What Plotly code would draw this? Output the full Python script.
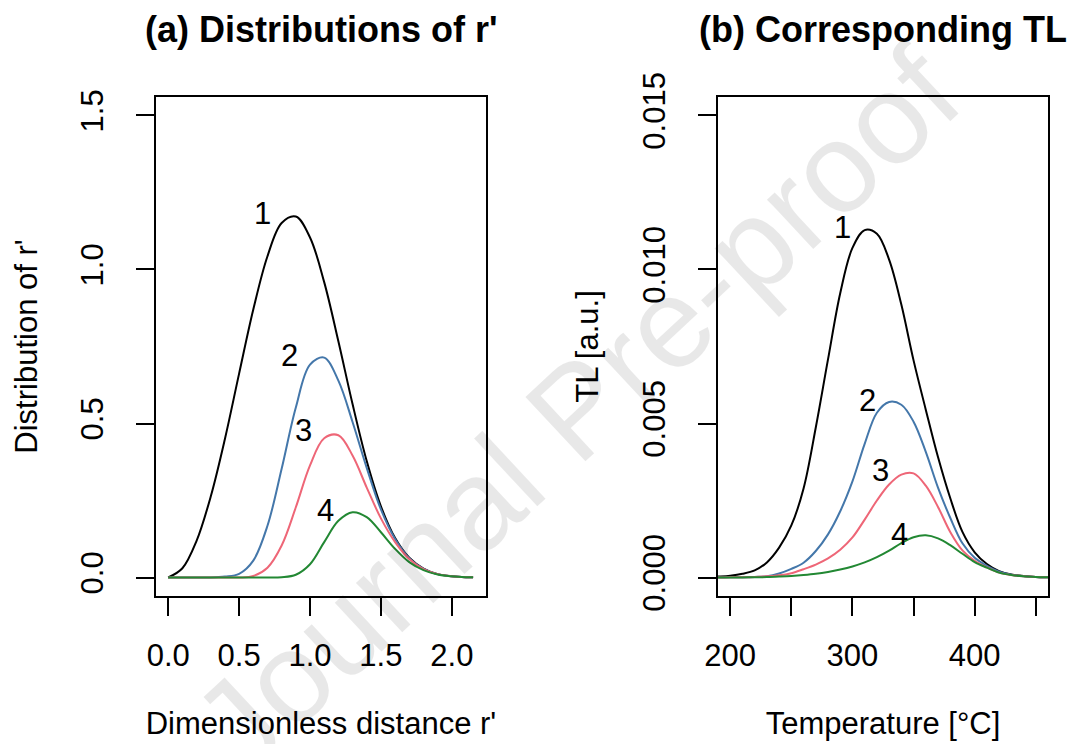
import plotly.graph_objects as go

# ---------------- data: panel (a) ----------------
r_prime = [0.0, 0.1, 0.2, 0.3, 0.4, 0.5, 0.6, 0.7, 0.8, 0.9, 1.0, 1.1,
           1.2, 1.3, 1.4, 1.5, 1.6, 1.7, 1.8, 1.9, 2.0, 2.1, 2.15]
dist_1 = [0.0, 0.030, 0.119, 0.263, 0.450, 0.662, 0.870, 1.043, 1.151, 1.172, 1.104, 0.959,
          0.767, 0.563, 0.378, 0.231, 0.128, 0.064, 0.029, 0.011, 0.004, 0.001, 0.0005]
dist_2 = [0.0, 0.0, 0.0, 0.0, 0.003, 0.012, 0.055, 0.168, 0.353, 0.552, 0.691, 0.714,
          0.639, 0.505, 0.356, 0.221, 0.125, 0.063, 0.028, 0.011, 0.004, 0.001, 0.0005]
dist_3 = [0.0, 0.0, 0.0, 0.0, 0.0, 0.0, 0.005, 0.032, 0.104, 0.228, 0.364, 0.452,
          0.462, 0.396, 0.292, 0.192, 0.115, 0.060, 0.027, 0.011, 0.004, 0.001, 0.0005]
dist_4 = [0.0, 0.0, 0.0, 0.0, 0.0, 0.0, 0.0, 0.0, 0.001, 0.009, 0.043, 0.115,
          0.184, 0.212, 0.196, 0.147, 0.093, 0.050, 0.024, 0.010, 0.004, 0.001, 0.0005]

# ---------------- data: panel (b) ----------------
temperature = [180, 190, 200, 210, 220, 230, 240, 250, 260, 270, 280, 290, 300, 310, 320,
               330, 340, 350, 360, 370, 380, 390, 400, 410, 420, 430, 440, 450, 460, 470]
tl_1 = [0.00001, 0.00003, 0.00006, 0.00012, 0.00023, 0.00049, 0.00097, 0.00169, 0.00289,
        0.00487, 0.00708, 0.00923, 0.01070, 0.01128, 0.01116, 0.01032, 0.00886, 0.00705,
        0.00545, 0.00391, 0.00258, 0.00148, 0.00082, 0.00044, 0.00021, 0.00010, 0.00005,
        0.00002, 0.00001, 0.000005]
tl_2 = [0.0, 0.000002, 0.000005, 0.00001, 0.00002, 0.00004, 0.00013, 0.00028, 0.00048,
        0.00086, 0.00140, 0.00215, 0.00312, 0.00434, 0.00535, 0.00570, 0.00561, 0.00506,
        0.00408, 0.00292, 0.00194, 0.00111, 0.00064, 0.00038, 0.00019, 0.00009, 0.000045,
        0.00002, 0.00001, 0.000005]
tl_3 = [0.0, 0.000002, 0.000005, 0.00001, 0.00002, 0.00004, 0.00007, 0.00014, 0.00027,
        0.00042, 0.00062, 0.00090, 0.00130, 0.00188, 0.00250, 0.00302, 0.00334, 0.00338,
        0.00298, 0.00229, 0.00148, 0.00088, 0.00054, 0.00033, 0.00016, 0.00008, 0.00004,
        0.00002, 0.00001, 0.000005]
tl_4 = [0.0, 0.000001, 0.000002, 0.000004, 0.000008, 0.000015, 0.00003, 0.00005, 0.00008,
        0.00012, 0.00018, 0.00026, 0.00036, 0.00049, 0.00066, 0.00087, 0.00112, 0.00131,
        0.00137, 0.00127, 0.00105, 0.00077, 0.00050, 0.00032, 0.00016, 0.00008, 0.00004,
        0.00002, 0.00001, 0.000005]

curve_names = ["1", "2", "3", "4"]
curve_colors = ["#000000", "#4477AA", "#EE6677", "#228833"]

# label anchor positions (data units)
label_a_x = [0.662, 0.857, 0.956, 1.110]
label_a_y = [1.183, 0.722, 0.476, 0.218]
label_b_x = [291.8, 312.3, 323.0, 338.5]
label_b_y = [0.01137, 0.00574, 0.00347, 0.00141]

xa_ticks = [0.0, 0.5, 1.0, 1.5, 2.0]
xa_ticktext = ["0.0", "0.5", "1.0", "1.5", "2.0"]
ya_ticks = [0.0, 0.5, 1.0, 1.5]
ya_ticktext = ["0.0", "0.5", "1.0", "1.5"]
xb_ticks = [200, 250, 300, 350, 400, 450]
xb_ticktext = ["200", "", "300", "", "400", ""]
yb_ticks = [0.0, 0.005, 0.010, 0.015]
yb_ticktext = ["0.000", "0.005", "0.010", "0.015"]

FONT = "Liberation Sans, Arial, Helvetica, sans-serif"
W, H = 1071, 744
FS = 31

fig = go.Figure()

for ys, name, col in zip([dist_1, dist_2, dist_3, dist_4], curve_names, curve_colors):
    fig.add_trace(go.Scatter(x=r_prime, y=ys, mode="lines", name=name,
                             line=dict(color=col, width=2, shape="spline", smoothing=1.0),
                             xaxis="x", yaxis="y", showlegend=False, hoverinfo="skip"))
for ys, name, col in zip([tl_1, tl_2, tl_3, tl_4], curve_names, curve_colors):
    fig.add_trace(go.Scatter(x=temperature, y=ys, mode="lines", name=name,
                             line=dict(color=col, width=2, shape="spline", smoothing=1.0),
                             xaxis="x2", yaxis="y2", showlegend=False, hoverinfo="skip"))

# plot boxes in pixels
ax_l, ax_r = 156, 486
bx_l, bx_r = 718, 1048
top, bot = 97, 596

def px(v):
    return v / W

def py(v):
    return 1 - v / H

axis_common = dict(showline=True, mirror=True, linecolor="black", linewidth=2,
                   ticks="outside", ticklen=18, tickwidth=2, tickcolor="black",
                   showgrid=False, zeroline=False, automargin=False,
                   tickfont=dict(family=FONT, size=FS, color="black"))

fig.update_layout(
    width=W, height=H,
    margin=dict(l=0, r=0, t=0, b=0, autoexpand=False),
    paper_bgcolor="white", plot_bgcolor="white",
    font=dict(family=FONT, color="black"),
    xaxis=dict(domain=[px(ax_l), px(ax_r)], range=[-0.086, 2.241],
               tickvals=xa_ticks, ticktext=xa_ticktext, anchor="y",
               ticklabelstandoff=13,
               title=dict(text="Dimensionless distance r'", font=dict(family=FONT, size=FS),
                          standoff=40),
               **axis_common),
    yaxis=dict(domain=[py(bot), py(top)], range=[-0.06, 1.56],
               tickvals=ya_ticks, ticktext=ya_ticktext, tickangle=-90, anchor="x",
               ticklabelstandoff=21,
               title=dict(text="Distribution of r'", font=dict(family=FONT, size=FS),
                          standoff=28),
               **axis_common),
    xaxis2=dict(domain=[px(bx_l), px(bx_r)], range=[190, 460],
                tickvals=xb_ticks, ticktext=xb_ticktext, anchor="y2",
                ticklabelstandoff=13,
                title=dict(text="Temperature [°C]", font=dict(family=FONT, size=FS),
                           standoff=40),
                **axis_common),
    yaxis2=dict(domain=[py(bot), py(top)], range=[-0.0006, 0.0156],
                tickvals=yb_ticks, ticktext=yb_ticktext, tickangle=-90, anchor="x2",
                ticklabelstandoff=21,
                title=dict(text="TL [a.u.]", font=dict(family=FONT, size=FS),
                           standoff=29),
                **axis_common),
)

annotations = []
for t, lx, ly in zip(curve_names, label_a_x, label_a_y):
    annotations.append(dict(x=lx, y=ly, xref="x", yref="y", text=t, showarrow=False,
                            font=dict(family=FONT, size=FS, color="black"),
                            xanchor="center", yanchor="middle"))
for t, lx, ly in zip(curve_names, label_b_x, label_b_y):
    annotations.append(dict(x=lx, y=ly, xref="x2", yref="y2", text=t, showarrow=False,
                            font=dict(family=FONT, size=FS, color="black"),
                            xanchor="center", yanchor="middle"))

annotations.append(dict(x=px(321), y=py(30), xref="paper", yref="paper",
                        text="<b>(a) Distributions of r'</b>", showarrow=False,
                        font=dict(family=FONT, size=36, color="black"),
                        xanchor="center", yanchor="middle"))
annotations.append(dict(x=px(883), y=py(30), xref="paper", yref="paper",
                        text="<b>(b) Corresponding TL</b>", showarrow=False,
                        font=dict(family=FONT, size=36, color="black"),
                        xanchor="center", yanchor="middle"))

# watermark
annotations.append(dict(x=px(576), y=py(410), xref="paper", yref="paper",
                        text="Journal Pre-proof", showarrow=False, textangle=-43,
                        font=dict(family=FONT, size=128, color="rgba(0,0,0,0.09)"),
                        xanchor="center", yanchor="middle"))

fig.update_layout(annotations=annotations)

fig.write_html("out.html", config={"displayModeBar": False},
               post_script="document.body.style.margin='0px';")
